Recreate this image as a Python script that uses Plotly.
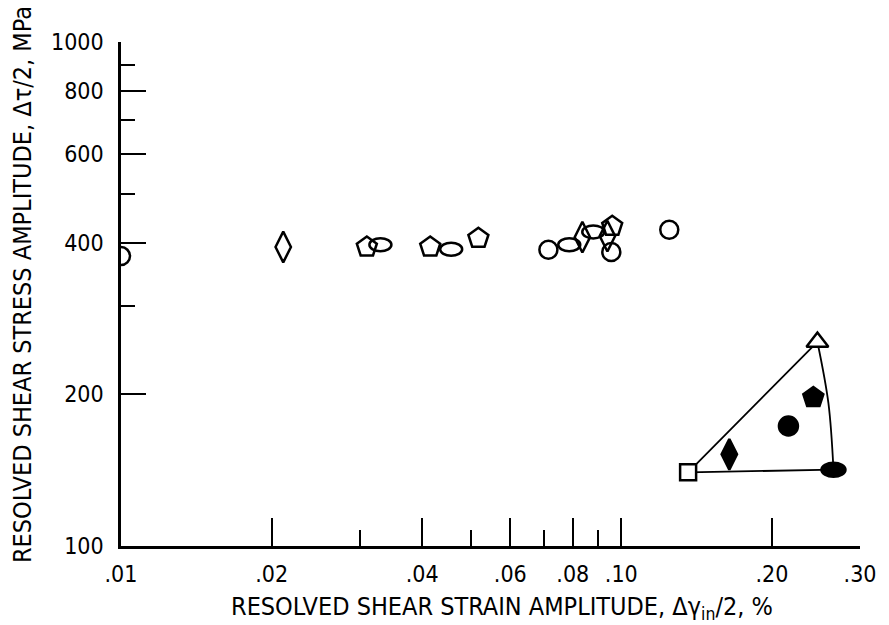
import plotly.graph_objects as go

FONT = "Liberation Sans Narrow, DejaVu Sans Condensed, Roboto Condensed, Liberation Sans, sans-serif"

# ---- data (strain %, stress MPa) ----
open_circle_x = [0.0100, 0.0715, 0.0955, 0.1247]
open_circle_y = [376, 387, 383, 424]

open_diamond_x = [0.0211, 0.0836, 0.0938]
open_diamond_y = [392, 410, 412]

open_house_x = [0.0310, 0.0415, 0.0518, 0.0959]
open_house_y = [392, 392, 408, 431]

open_ellipse_x = [0.0330, 0.0457, 0.0787, 0.0879]
open_ellipse_y = [396, 388, 396, 420]

square_x = [0.136]
square_y = [140]
triangle_x = [0.2466]
triangle_y = [254]

filled_diamond_x = [0.1644]
filled_diamond_y = [152]
filled_circle_x = [0.2158]
filled_circle_y = [173]
filled_house_x = [0.242]
filled_house_y = [197]
filled_ellipse_x = [0.2655]
filled_ellipse_y = [141.7]

# boundary: ellipse -> square -> triangle (straight), triangle -> ellipse (arc)
edge_x = [0.2655, 0.136, 0.2466]
edge_y = [141.7, 140, 254]
arc_x = [0.2466, 0.2594, 0.2655]
arc_y = [254, 192, 141.7]

x_tickvals = [0.01, 0.02, 0.04, 0.06, 0.08, 0.10, 0.20, 0.30]
x_ticktext = [".01", ".02", ".04", ".06", ".08", ".10", ".20", ".30"]
x_minor = [0.03, 0.05, 0.07, 0.09]
y_tickvals = [100, 200, 400, 600, 800, 1000]
y_ticktext = ["100", "200", "400", "600", "800", "1000"]
y_minor = [300, 500, 700, 900]

X_RANGE = [-2, -0.5229]
Y_RANGE = [2, 3]
MARGIN = dict(l=121, r=29, t=42, b=79)
W, H = 889, 625
plot_w = W - MARGIN["l"] - MARGIN["r"]
plot_h = H - MARGIN["t"] - MARGIN["b"]
px_per_dec_x = plot_w / (X_RANGE[1] - X_RANGE[0])
px_per_dec_y = plot_h / (Y_RANGE[1] - Y_RANGE[0])

fig = go.Figure()

fig.add_trace(go.Scatter(x=edge_x, y=edge_y, mode="lines",
                         line=dict(color="black", width=1.8), hoverinfo="skip"))
fig.add_trace(go.Scatter(x=arc_x, y=arc_y, mode="lines",
                         line=dict(color="black", width=1.8, shape="spline"), hoverinfo="skip"))

LW = 2.5
def add(xs, ys, symbol, size, fill):
    fig.add_trace(go.Scatter(
        x=xs, y=ys, mode="markers",
        marker=dict(symbol=symbol, size=size, color=fill,
                    line=dict(color="black", width=LW)),
    ))

add(open_circle_x, open_circle_y, "circle-open", 18, "black")
add(open_diamond_x, open_diamond_y, "diamond-tall-open", 22, "black")
add(open_house_x, open_house_y, "pentagon-open", 21, "black")
add(square_x, square_y, "square", 16, "white")
add(triangle_x, triangle_y, "triangle-up", 19, "white")
add(filled_diamond_x, filled_diamond_y, "diamond-tall", 22, "black")
add(filled_circle_x, filled_circle_y, "circle", 19, "black")
add(filled_house_x, filled_house_y, "pentagon", 21, "black")

# ellipse markers: drawn as data-space ellipses around each point
def ellipse(cx, cy, rx_px, ry_px, fill):
    fx = 10 ** (rx_px / px_per_dec_x)
    fy = 10 ** (ry_px / px_per_dec_y)
    fig.add_shape(type="circle", xref="x", yref="y",
                  x0=cx / fx, x1=cx * fx, y0=cy / fy, y1=cy * fy,
                  line=dict(color="black", width=LW), fillcolor=fill)

for ex, ey in zip(open_ellipse_x, open_ellipse_y):
    ellipse(ex, ey, 11, 6.5, "rgba(0,0,0,0)")
for ex, ey in zip(filled_ellipse_x, filled_ellipse_y):
    ellipse(ex, ey, 12, 7, "black")

fig.update_layout(
    width=W, height=H,
    margin=MARGIN,
    paper_bgcolor="white", plot_bgcolor="white",
    showlegend=False,
    font=dict(family=FONT, color="black", size=23),
)
fig.update_xaxes(
    type="log", range=X_RANGE,
    showgrid=False, zeroline=False,
    showline=True, linecolor="black", linewidth=2.5,
    ticks="inside", ticklen=28, tickwidth=2, tickcolor="black",
    tickvals=x_tickvals, ticktext=x_ticktext,
    tickfont=dict(size=23, family=FONT),
    ticklabelstandoff=6,
    minor=dict(tickvals=x_minor, ticks="inside", ticklen=16, tickwidth=2, tickcolor="black", showgrid=False),
)
fig.update_yaxes(
    type="log", range=Y_RANGE,
    showgrid=False, zeroline=False,
    showline=True, linecolor="black", linewidth=2.5,
    ticks="inside", ticklen=25, tickwidth=2, tickcolor="black",
    tickvals=y_tickvals, ticktext=y_ticktext,
    tickfont=dict(size=23, family=FONT),
    ticklabelstandoff=10,
    minor=dict(tickvals=y_minor, ticks="inside", ticklen=14, tickwidth=2, tickcolor="black", showgrid=False),
)

fig.add_annotation(text="RESOLVED SHEAR STRAIN AMPLITUDE, Δγ<sub>in</sub>/2, %",
                   xref="paper", yref="paper", x=(502 - MARGIN["l"]) / plot_w,
                   y=-(608 - (H - MARGIN["b"])) / plot_h,
                   xanchor="center", yanchor="middle", showarrow=False,
                   font=dict(size=25, family=FONT))
fig.add_annotation(text="RESOLVED SHEAR STRESS AMPLITUDE, Δτ/2, MPa",
                   xref="paper", yref="paper", x=-(MARGIN["l"] - 22) / plot_w,
                   y=((H - MARGIN["b"]) - 285) / plot_h,
                   xanchor="center", yanchor="middle", showarrow=False, textangle=-90,
                   font=dict(size=25, family=FONT))

fig.write_html("out.html")
